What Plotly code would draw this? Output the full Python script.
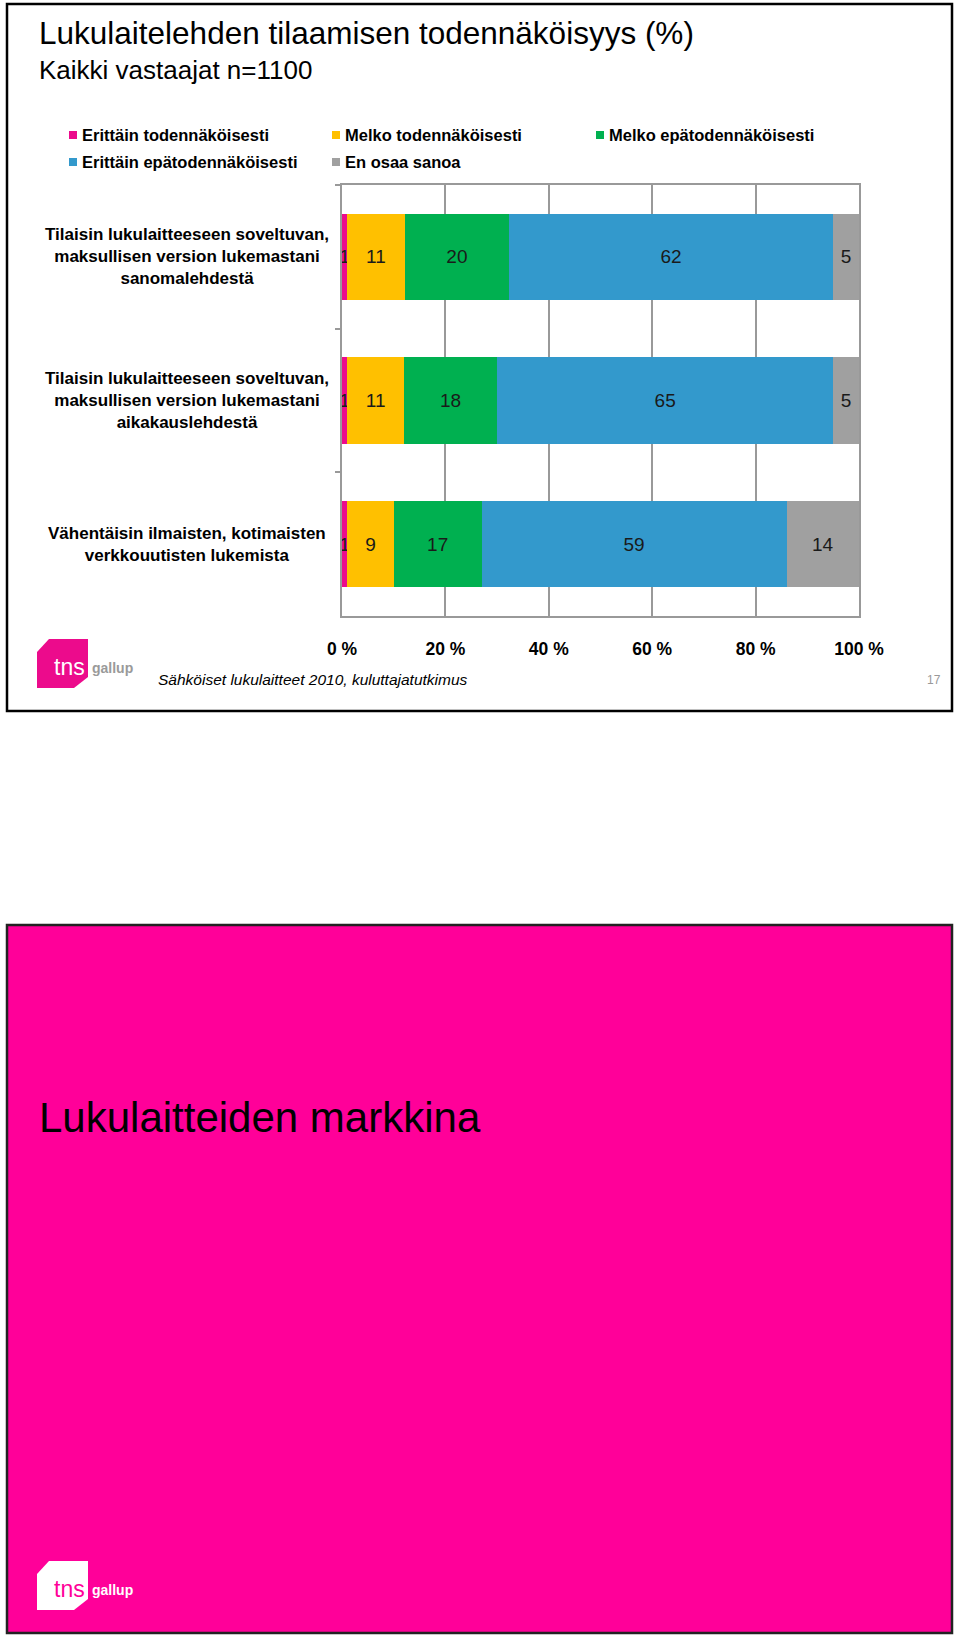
import plotly.graph_objects as go

# ---------------- data ----------------
categories = [
    "Tilaisin lukulaitteeseen soveltuvan,<br>maksullisen version lukemastani<br>sanomalehdestä",
    "Tilaisin lukulaitteeseen soveltuvan,<br>maksullisen version lukemastani<br>aikakauslehdestä",
    "Vähentäisin ilmaisten, kotimaisten<br>verkkouutisten lukemista",
]
series_names = [
    "Erittäin todennäköisesti",
    "Melko todennäköisesti",
    "Melko epätodennäköisesti",
    "Erittäin epätodennäköisesti",
    "En osaa sanoa",
]
erittain_todennakoisesti = [1, 1, 1]
melko_todennakoisesti = [11, 11, 9]
melko_epatodennakoisesti = [20, 18, 17]
erittain_epatodennakoisesti = [62, 65, 59]
en_osaa_sanoa = [5, 5, 14]
tick_values = [0, 20, 40, 60, 80, 100]
tick_labels = ["0 %", "20 %", "40 %", "60 %", "80 %", "100 %"]

title_text = "Lukulaitelehden tilaamisen todennäköisyys (%)"
subtitle_text = "Kaikki vastaajat n=1100"
footer_text = "Sähköiset lukulaitteet 2010, kuluttajatutkimus"
page_number = "17"
slide2_text = "Lukulaitteiden markkina"

# ---------------- style ----------------
colors = ["#EC0B8C", "#FFC000", "#00B050", "#3399CC", "#A0A0A0"]
FONT = "Liberation Sans, Arial, sans-serif"
SLIDE_PINK = "#FF0099"

W, H = 960, 1641
PL, PR, PT, PB = 342, 859, 185, 616  # plot area in pixels


def px(x):
    return (x - PL) / (PR - PL)


def py(y):
    return (PB - y) / (PB - PT)


all_values = [
    erittain_todennakoisesti,
    melko_todennakoisesti,
    melko_epatodennakoisesti,
    erittain_epatodennakoisesti,
    en_osaa_sanoa,
]

fig = go.Figure()
for name, vals, col in zip(series_names, all_values, colors):
    fig.add_trace(
        go.Bar(
            x=vals,
            y=categories,
            orientation="h",
            name=name,
            marker=dict(color=col, line=dict(width=0)),
            text=vals,
            texttemplate="%{text}",
            textposition="inside",
            insidetextanchor="middle",
            textangle=0,
            constraintext="none",
            insidetextfont=dict(family=FONT, size=19, color="#1a1a1a"),
            showlegend=False,
            hoverinfo="skip",
        )
    )

shapes = []
annotations = []

# slide 1 border
shapes.append(dict(type="rect", xref="paper", yref="paper",
                   x0=px(7), x1=px(952), y0=py(4), y1=py(711),
                   line=dict(color="black", width=2.5), fillcolor="rgba(0,0,0,0)", layer="below"))
# slide 2 background
shapes.append(dict(type="rect", xref="paper", yref="paper",
                   x0=px(7), x1=px(952), y0=py(925), y1=py(1633),
                   line=dict(color="#222", width=2.5), fillcolor=SLIDE_PINK, layer="below"))

# titles
annotations.append(dict(text=title_text, xref="paper", yref="paper", x=px(37), y=py(33),
                        xanchor="left", yanchor="middle", showarrow=False,
                        font=dict(family=FONT, size=31.5, color="black")))
annotations.append(dict(text=subtitle_text, xref="paper", yref="paper", x=px(37), y=py(70),
                        xanchor="left", yanchor="middle", showarrow=False,
                        font=dict(family=FONT, size=26, color="black")))

# manual legend
legend_slots = [(69, 135), (332, 135), (596, 135), (69, 162), (332, 162)]
for (lx, ly), name, col in zip(legend_slots, series_names, colors):
    shapes.append(dict(type="rect", xref="paper", yref="paper",
                       x0=px(lx), x1=px(lx + 8), y0=py(ly + 4), y1=py(ly - 4),
                       line=dict(width=0), fillcolor=col))
    annotations.append(dict(text=name, xref="paper", yref="paper", x=px(lx + 11), y=py(ly),
                            xanchor="left", yanchor="middle", showarrow=False,
                            font=dict(family=FONT, size=16.5, color="black", weight="bold")))

# category labels (centered multi-line)
for cat in categories:
    annotations.append(dict(text=cat, xref="paper", yref="y", x=px(187), y=cat,
                            xanchor="center", yanchor="middle", align="center", showarrow=False,
                            font=dict(family=FONT, size=17, color="black", weight="bold")))

# footer
annotations.append(dict(text=footer_text, xref="paper", yref="paper", x=px(156), y=py(679),
                        xanchor="left", yanchor="middle", showarrow=False,
                        font=dict(family=FONT, size=15.5, color="black", style="italic")))
annotations.append(dict(text=page_number, xref="paper", yref="paper", x=px(934), y=py(680),
                        xanchor="center", yanchor="middle", showarrow=False,
                        font=dict(family=FONT, size=12, color="#999999")))


def logo(dy, shape_col, tns_col, gallup_col):
    pts = [(49, 639), (88, 639), (88, 677), (74, 688), (37, 688), (37, 652)]
    path = "M " + " L ".join(f"{px(x)},{py(y + dy)}" for x, y in pts) + " Z"
    shapes.append(dict(type="path", xref="paper", yref="paper", path=path,
                       fillcolor=shape_col, line=dict(width=0)))
    annotations.append(dict(text="tns", xref="paper", yref="paper", x=px(52), y=py(667 + dy),
                            xanchor="left", yanchor="middle", showarrow=False,
                            font=dict(family=FONT, size=23, color=tns_col)))
    annotations.append(dict(text="gallup", xref="paper", yref="paper", x=px(90), y=py(668 + dy),
                            xanchor="left", yanchor="middle", showarrow=False,
                            font=dict(family=FONT, size=14, color=gallup_col, weight="bold")))


logo(0, "#EC0B8C", "white", "#9A9A9A")
logo(922, "white", SLIDE_PINK, "white")

annotations.append(dict(text=slide2_text, xref="paper", yref="paper", x=px(37), y=py(1117),
                        xanchor="left", yanchor="middle", showarrow=False,
                        font=dict(family=FONT, size=42, color="black")))

fig.update_layout(
    width=W, height=H, autosize=False,
    margin=dict(l=PL, r=W - PR, t=PT, b=H - PB, pad=0),
    paper_bgcolor="white", plot_bgcolor="white",
    barmode="stack", barnorm="percent", bargap=0.4,
    shapes=shapes, annotations=annotations,
    xaxis=dict(range=[0, 100], tickvals=tick_values, ticktext=tick_labels,
               showgrid=True, gridcolor="#999999", gridwidth=2,
               showline=True, mirror=True, linecolor="#999999", linewidth=2,
               zeroline=False, ticks="", ticklabelstandoff=16,
               tickfont=dict(family=FONT, size=17.5, color="black", weight="bold")),
    yaxis=dict(type="category", categoryorder="array", categoryarray=categories,
               range=[2.5, -0.5], showgrid=False, showticklabels=False,
               showline=True, mirror=True, linecolor="#999999", linewidth=2,
               ticks="outside", tickson="boundaries", ticklen=5, tickcolor="#999999", tickwidth=1.5,
               zeroline=False),
)

fig.write_html("out.html")
